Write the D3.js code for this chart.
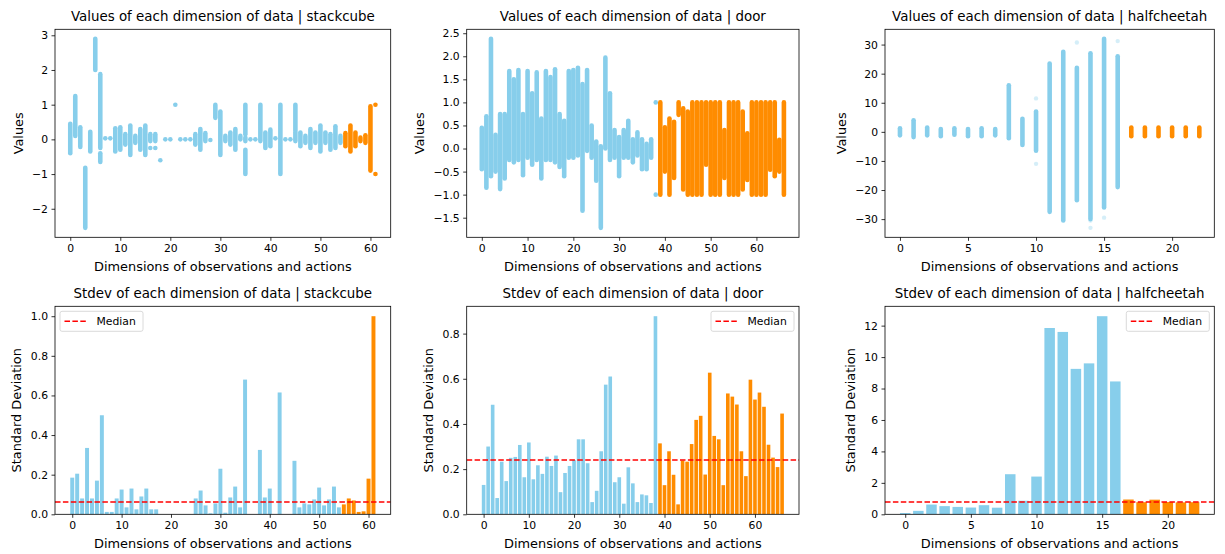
<html>
<head><meta charset="utf-8"></head>
<script src='https://d3js.org/d3.v7.min.js'></script>
<style>
body {margin: 0; background: #fff;}
text {font-family: 'DejaVu Sans', sans-serif; fill: #000;}
</style>
<body onload='init()'>
<svg width=1225 height=554></svg>
<script>
// per dimension: list of [low, high] spans covered by the sampled values
var stackcubeRanges = [
  [[-0.4,0.45]], [[0.1,1.25]], [[-0.22,0.35]], [[-2.55,-0.82]], [[-0.35,0.22]],
  [[2.0,2.9]], [[-0.65,-0.4],[-0.25,1.88]], [[0.03,0.03]], [[0.03,0.03]], [[-0.35,0.32]],
  [[-0.3,0.35]], [[-0.15,0.15]], [[-0.45,0.4]], [[-0.1,0.1]], [[-0.3,0.3]],
  [[-0.45,0.4]], [[-0.25,-0.25],[-0.05,0.15]], [[-0.25,-0.25],[-0.05,0.15]], [[-0.6,-0.6]], [[0,0]],
  [[0,0]], [[1,1]], [[0,0]], [[0,0]], [[0,0]],
  [[-0.15,0.15]], [[-0.3,0.3]], [[-0.05,0.18]], [[-0.02,-0.02]], [[0.62,1.0]],
  [[-0.45,0.8]], [[-0.05,0.1]], [[-0.15,0.2]], [[-0.3,0.3]], [[0,0.1]],
  [[-1,-0.3],[-0.05,0.05],[0.15,1]], [[0,0]], [[0,0]], [[-0.05,1.0]], [[-0.25,0.2]],
  [[-0.2,0.28]], [[0.03,0.03]], [[-1,1]], [[0,0]], [[0,0]],
  [[-0.05,0.2],[0.25,1.0]], [[-0.2,0.2]], [[-0.1,0.1]], [[-0.25,0.3]], [[-0.1,0.2]],
  [[-0.35,0.4]], [[-0.1,0.2]], [[-0.3,0.15]], [[-0.25,0.38]], [[-0.1,0.1]],
  [[-0.2,0.18]], [[-0.35,0.4]], [[-0.2,0.2]], [[-0.05,0.05]], [[-0.1,0.12]],
  [[-0.9,0.95]], [[-1,-1],[1,1]]
];
var stackcubeStd = [
  0.185,0.205,0.08,0.335,0.08,0.17,0.50,0.012,0.012,0.08,
  0.125,0.035,0.13,0.025,0.09,0.13,0.025,0.025,0,0,
  0,0,0,0,0,0.08,0.12,0.045,0.005,0.055,
  0.23,0.008,0.085,0.14,0.035,0.68,0,0,0.325,0.085,
  0.13,0,0.615,0,0,0.27,0.035,0.055,0.05,0.075,
  0.135,0.045,0.075,0.14,0.035,0.05,0.08,0.07,0.012,0.015,
  0.18,1.0
];
var stackcubeObsDims = 55;

var doorRanges = [
  [[-0.45,0.45]], [[-0.85,0.7]], [[-0.6,2.38]], [[-0.5,0.3]], [[-0.88,0.75]],
  [[-0.65,0.75]], [[-0.25,1.68]], [[-0.3,1.5]], [[-0.25,1.7]], [[-0.58,0.75]],
  [[-0.2,1.68]], [[-0.35,1.2]], [[-0.25,1.65]], [[-0.65,0.65]], [[-0.25,1.68]],
  [[-0.25,1.55]], [[-0.3,1.72]], [[-0.4,0.75]], [[-0.6,0.6]], [[-0.2,1.68]],
  [[-0.2,1.7]], [[-0.15,1.75]], [[-1.35,1.4]], [[-0.05,1.7]], [[-0.2,0.5]],
  [[-0.7,0.15]], [[-1.72,0.05]], [[0,1.97]], [[-0.25,1.2]], [[-0.2,0.4]],
  [[-0.6,0.25]], [[-0.2,0.4]], [[-0.2,0.6]], [[-0.3,0.2]], [[-0.15,0.35]],
  [[-0.45,0.2]], [[-0.45,0.1]], [[-0.2,0.2]], [[-1,-1],[1,1]], [[-1,1]],
  [[-0.5,0.46]], [[-1,0.65]], [[-0.64,0.58]], [[0.73,1]], [[-0.89,0.87]],
  [[-1,0.8]], [[-1,1]], [[-1,1]], [[-1,1]], [[-0.35,1]],
  [[-1,1]], [[-1,1]], [[-1,1]], [[-0.64,0.4]], [[-1,1]],
  [[-1,1]], [[-1,1]], [[-0.89,0.8]], [[-0.68,0.33]], [[-1,1]],
  [[-1,1]], [[-1,1]], [[-1,1]], [[-0.46,1]], [[-0.6,1]],
  [[-0.5,0.19]], [[-1,1]]
];
var doorStd = [
  0.13,0.30,0.485,0.072,0.233,0.147,0.25,0.254,0.307,0.164,
  0.318,0.155,0.217,0.179,0.255,0.214,0.26,0.098,0.183,0.214,
  0.24,0.332,0.332,0.226,0.054,0.104,0.279,0.574,0.61,0.142,
  0.164,0.047,0.208,0.137,0.054,0.088,0.084,0.05,0.877,0.314,
  0.129,0.279,0.175,0.044,0.238,0.233,0.311,0.418,0.436,0.176,
  0.627,0.347,0.332,0.129,0.535,0.521,0.486,0.279,0.169,0.596,
  0.508,0.539,0.476,0.308,0.251,0.209,0.446
];
var doorObsDims = 39;

var halfcheetahRanges = [
  [[-1.2,1.2]], [[-1.8,4]], [[-1.2,1.5]], [[-1.5,1]], [[-1,1.2]],
  [[-1.5,1]], [[-1.5,1.2]], [[-1.2,1]], [[-2.2,16]], [[-4.5,4.5]],
  [[-6.5,7]], [[-27.5,23.5]], [[-30.5,27.5]], [[-23.5,22]], [[-30,27]],
  [[-26,32]], [[-19,26]], [[-1.5,1.5]], [[-1.5,1.5]], [[-1.5,1.5]],
  [[-1.5,1.5]], [[-1.5,1.5]], [[-1.5,1.5]]
];
// sparse single samples far from the bulk: [dimension, value]
var halfcheetahOutliers = [[10,11.5],[10,-11],[13,30.7],[14,-33],[14,-30.5],[15,-29.5],[16,31.2]];
var halfcheetahStd = [
  0.08,0.22,0.62,0.52,0.47,0.43,0.58,0.42,2.55,0.86,
  2.4,11.85,11.6,9.25,9.6,12.6,8.45,0.94,0.77,0.93,
  0.78,0.76,0.77
];
var halfcheetahObsDims = 17;

var stackcubeValueTicks = [-2,-1,0,1,2,3];
var doorValueTicks = [-1.5,-1,-0.5,0,0.5,1,1.5,2,2.5];
var halfcheetahValueTicks = [-30,-20,-10,0,10,20,30];
var stackcubeStdTicks = [0,0.2,0.4,0.6,0.8,1.0];
var doorStdTicks = [0,0.2,0.4,0.6,0.8];
var halfcheetahStdTicks = [0,2,4,6,8,10,12];
var dimTicks60 = [0,10,20,30,40,50,60];
var dimTicks20 = [0,5,10,15,20];

var obsColor = '#87ceeb', actColor = '#ff8c00';
var xLabel = 'Dimensions of observations and actions';
var tickFont = 10.8, labelFont = 12.9, titleFont = 13.4;

function minus(f) { return function(d) { return f(d).replace('-', '\u2212'); }; }

function frame(svg, box, title, xTicks, yTicks, x, y, yFmt, yLabel) {
  var g = svg.append('g').attr('transform', 'translate(' + box.left + ',' + box.top + ')');
  var w = box.right - box.left, h = box.bottom - box.top;
  var id = 'clip' + Math.round(box.left) + '_' + Math.round(box.top);
  g.append('clipPath').attr('id', id).append('rect').attr('width', w).attr('height', h);
  var plot = g.append('g').attr('clip-path', 'url(#' + id + ')');
  var xa = g.append('g').attr('transform', 'translate(0,' + h + ')')
    .call(d3.axisBottom(x).tickValues(xTicks).tickSizeOuter(0).tickSize(3.5).tickPadding(3.5).tickFormat(minus(d3.format('d'))));
  var ya = g.append('g')
    .call(d3.axisLeft(y).tickValues(yTicks).tickSizeOuter(0).tickSize(3.5).tickPadding(3.5).tickFormat(minus(yFmt)));
  [xa, ya].forEach(function(a) {
    a.select('.domain').remove();
    a.selectAll('text').attr('font-size', tickFont).attr('font-family', 'DejaVu Sans').attr('fill', '#222');
    a.selectAll('line').attr('stroke', '#000').attr('stroke-width', 0.8);
  });
  g.append('rect').attr('width', w).attr('height', h).attr('fill', 'none').attr('stroke', '#000').attr('stroke-width', 0.8);
  g.append('text').attr('x', w / 2).attr('y', -8).attr('text-anchor', 'middle').attr('font-size', titleFont).text(title);
  g.append('text').attr('x', w / 2).attr('y', h + 34).attr('text-anchor', 'middle').attr('font-size', labelFont).text(xLabel);
  var bb = ya.node().getBBox();
  g.append('text').attr('transform', 'translate(' + (bb.x - 14) + ',' + (h / 2) + ') rotate(-90)')
    .attr('text-anchor', 'middle').attr('dominant-baseline', 'central').attr('font-size', labelFont).text(yLabel);
  return {g: g, plot: plot, w: w, h: h};
}

function scatterPanel(svg, box, name, ranges, obsDims, outliers, yTicks, xTicks, yFmt) {
  var n = ranges.length;
  var vals = [];
  ranges.forEach(function(r) { r.forEach(function(s) { vals.push(s[0], s[1]); }); });
  outliers.forEach(function(o) { vals.push(o[1]); });
  var lo = d3.min(vals), hi = d3.max(vals), pad = (hi - lo) * 0.05;
  var xpad = (n - 1) * 0.05;
  var x = d3.scaleLinear().domain([-xpad, n - 1 + xpad]).range([0, box.right - box.left]);
  var y = d3.scaleLinear().domain([lo - pad, hi + pad]).range([box.bottom - box.top, 0]);
  var p = frame(svg, box, 'Values of each dimension of data | ' + name, xTicks, yTicks, x, y, yFmt, 'Values');
  var segs = [];
  ranges.forEach(function(r, i) { r.forEach(function(s) { segs.push({i: i, lo: s[0], hi: s[1]}); }); });
  p.plot.selectAll('line.seg').data(segs).enter().append('line')
    .attr('x1', function(d) { return x(d.i); }).attr('x2', function(d) { return x(d.i); })
    .attr('y1', function(d) { return y(d.lo); }).attr('y2', function(d) { return y(d.hi); })
    .attr('stroke', function(d) { return d.i < obsDims ? obsColor : actColor; })
    .attr('stroke-width', 4.6).attr('stroke-linecap', 'round');
  p.plot.selectAll('circle.out').data(outliers).enter().append('circle')
    .attr('cx', function(d) { return x(d[0]); }).attr('cy', function(d) { return y(d[1]); })
    .attr('r', 2.2).attr('fill', function(d) { return d[0] < obsDims ? obsColor : actColor; }).attr('opacity', 0.35);
}

function barPanel(svg, box, name, std, obsDims, yTicks, xTicks, yFmt, legendSide) {
  var n = std.length;
  var span = (n - 1) + 0.8, xpad = span * 0.05;
  var x = d3.scaleLinear().domain([-0.4 - xpad, n - 1 + 0.4 + xpad]).range([0, box.right - box.left]);
  var y = d3.scaleLinear().domain([0, d3.max(std) * 1.05]).range([box.bottom - box.top, 0]);
  var p = frame(svg, box, 'Stdev of each dimension of data | ' + name, xTicks, yTicks, x, y, yFmt, 'Standard Deviation');
  p.plot.selectAll('rect.bar').data(std).enter().append('rect')
    .attr('x', function(d, i) { return x(i - 0.4); })
    .attr('width', x(0.8) - x(0))
    .attr('y', function(d) { return y(d); })
    .attr('height', function(d) { return y(0) - y(d); })
    .attr('fill', function(d, i) { return i < obsDims ? obsColor : actColor; });
  var med = d3.median(std);
  p.plot.append('line').attr('x1', 0).attr('x2', p.w).attr('y1', y(med)).attr('y2', y(med))
    .attr('stroke', '#ff0000').attr('stroke-width', 1.5).attr('stroke-dasharray', '5.5,2.4');
  var lw = 83, lh = 20;
  var lx = legendSide === 'left' ? 5 : p.w - 5 - lw;
  var lg = p.g.append('g').attr('transform', 'translate(' + lx + ',5)');
  lg.append('rect').attr('width', lw).attr('height', lh).attr('rx', 2)
    .attr('fill', '#fff').attr('fill-opacity', 0.8).attr('stroke', '#d0d0d0').attr('stroke-width', 0.8);
  lg.append('line').attr('x1', 4.5).attr('x2', 27.5).attr('y1', lh / 2).attr('y2', lh / 2)
    .attr('stroke', '#ff0000').attr('stroke-width', 1.5).attr('stroke-dasharray', '5.5,2.4');
  lg.append('text').attr('x', 36.5).attr('y', lh / 2).attr('dominant-baseline', 'central').attr('font-size', tickFont).text('Median');
}

function init() {
  var svg = d3.select('svg');
  var top = {t: 29.3, b: 237.3}, bot = {t: 306.3, b: 514.3};
  var cols = [{l: 55, r: 390.7}, {l: 466.7, r: 799}, {l: 885, r: 1214.3}];
  function box(c, row) { return {left: c.l, right: c.r, top: row.t, bottom: row.b}; }

  scatterPanel(svg, box(cols[0], top), 'stackcube', stackcubeRanges, stackcubeObsDims, [], stackcubeValueTicks, dimTicks60, d3.format('d'));
  scatterPanel(svg, box(cols[1], top), 'door', doorRanges, doorObsDims, [], doorValueTicks, dimTicks60, d3.format('.1f'));
  scatterPanel(svg, box(cols[2], top), 'halfcheetah', halfcheetahRanges, halfcheetahObsDims, halfcheetahOutliers, halfcheetahValueTicks, dimTicks20, d3.format('d'));

  barPanel(svg, box(cols[0], bot), 'stackcube', stackcubeStd, stackcubeObsDims, stackcubeStdTicks, dimTicks60, d3.format('.1f'), 'left');
  barPanel(svg, box(cols[1], bot), 'door', doorStd, doorObsDims, doorStdTicks, dimTicks60, d3.format('.1f'), 'right');
  barPanel(svg, box(cols[2], bot), 'halfcheetah', halfcheetahStd, halfcheetahObsDims, halfcheetahStdTicks, dimTicks20, d3.format('d'), 'right');
}
</script>
</body>
</html>
